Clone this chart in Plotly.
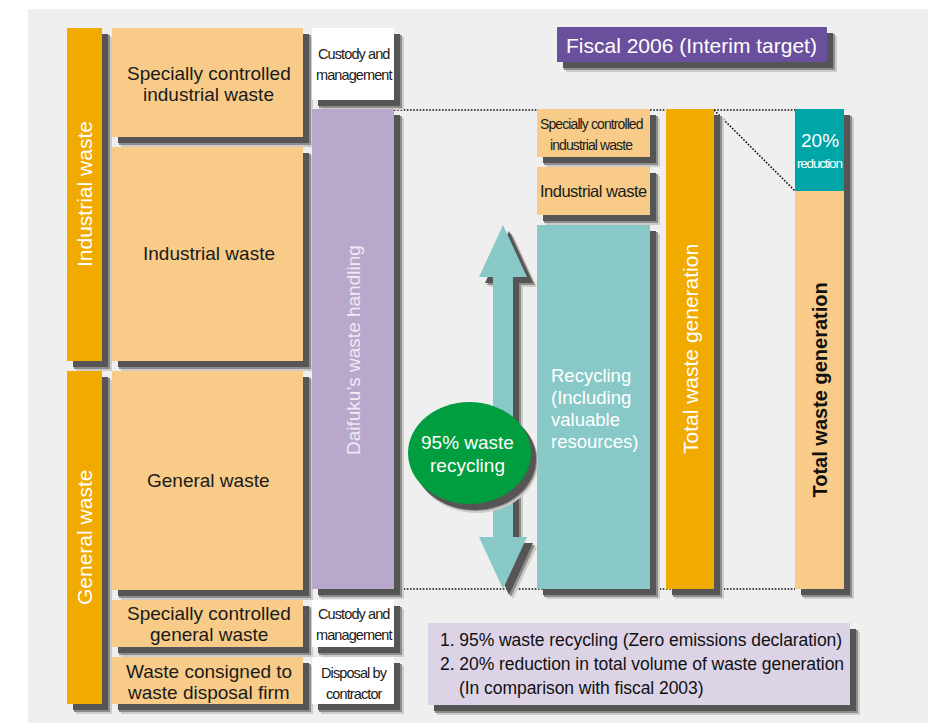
import plotly.graph_objects as go

# ---- text content (diagram "data") ----
category_labels = ["Industrial waste", "General waste"]
source_labels = [
    ["Specially controlled", "industrial waste"],
    ["Industrial waste"],
    ["General waste"],
    ["Specially controlled", "general waste"],
    ["Waste consigned to", "waste disposal firm"],
]
handling_labels = [["Custody and", "management"], ["Custody and", "management"], ["Disposal by", "contractor"]]
handling_main_label = "Daifuku\u2019s waste handling"
target_title = "Fiscal 2006 (Interim target)"
outcome_labels = [["Specially controlled", "industrial waste"], ["Industrial waste"]]
recycling_label = ["Recycling", "(Including", "valuable", "resources)"]
recycling_rate_label = ["95% waste", "recycling"]
total_label = "Total waste generation"
reduction_pct = "20%"
reduction_label = "reduction"
goal_lines = [
    "1. 95% waste recycling (Zero emissions declaration)",
    "2. 20% reduction in total volume of waste generation",
    "(In comparison with fiscal 2003)",
]

# ---- geometry (pixel layout of the diagram) ----
category_boxes = [(67, 28, 102, 361), (67, 371, 102, 704)]
source_boxes = [(112, 28, 303, 137), (112, 147, 303, 361), (112, 371, 303, 590),
                (112, 600, 303, 647), (112, 657, 303, 704)]
handling_boxes = [(312, 28, 394, 100), (312, 600, 394, 647), (312, 657, 394, 704)]
handling_main_box = (312, 109, 394, 589)
outcome_boxes = [(537, 109, 650, 157), (537, 167, 650, 215)]
recycling_box = (537, 225, 650, 589)
total_box = (666, 109, 714, 589)
reduced_top_box = (795, 109, 844, 191)
reduced_box = (795, 191, 844, 589)
title_box = (557, 27, 827, 62)
goal_box = (428, 623, 850, 705)
ellipse_box = (408, 402, 531, 504)

# colours
PANEL = "#EFEFEF"
ORANGE = "#F0AA00"
LIGHT_ORANGE = "#F8CC88"
LAVENDER = "#B7A8CC"
TEAL_LIGHT = "#88C9C7"
TEAL_DARK = "#00A5A7"
TITLE_PURPLE = "#6A4F9C"
GREEN = "#009E3E"
NOTE = "#DCD3E6"
SHADOW = "#555555"
MID = "#8E8C8A"
FRINGE = "#CFCBC8"

SANS = "Liberation Sans, Arial, sans-serif"

shapes = []


def rect(b, color):
    shapes.append(dict(type="rect", xref="x", yref="y", x0=b[0], y0=b[1], x1=b[2], y1=b[3],
                       fillcolor=color, line=dict(width=0)))


def shadowed(b, color, off=6):
    rect((b[0] + off + 3, b[1] + off + 3, b[2] + off + 4, b[3] + off + 4), FRINGE)
    rect((b[0] + off + 1, b[1] + off + 1, b[2] + off + 2, b[3] + off + 2), MID)
    rect((b[0] + off, b[1] + off, b[2] + off, b[3] + off), SHADOW)
    rect(b, color)


def dotted(x0, y0, x1, y1):
    shapes.append(dict(type="line", xref="x", yref="y", x0=x0, y0=y0, x1=x1, y1=y1,
                       line=dict(color="#111111", width=1.6, dash="1.6px,1.6px")))


# panel
rect((28, 9, 928, 723), PANEL)

# dotted guide lines
top_y = handling_main_box[1] + 1
bot_y = handling_main_box[3]
dotted(handling_main_box[2], top_y, reduced_top_box[0], top_y)
dotted(total_box[2], top_y, reduced_top_box[0], reduced_top_box[3])
dotted(handling_main_box[2], bot_y, reduced_box[0], bot_y)

for b in category_boxes:
    shadowed(b, ORANGE)
for b in source_boxes:
    shadowed(b, LIGHT_ORANGE)
for b in handling_boxes:
    shadowed(b, "#FFFFFF")
shadowed(handling_main_box, LAVENDER)
for b in outcome_boxes:
    shadowed(b, LIGHT_ORANGE)
shadowed(recycling_box, TEAL_LIGHT)
shadowed(total_box, ORANGE)
shadowed((reduced_top_box[0], reduced_top_box[1], reduced_box[2], reduced_box[3]), LIGHT_ORANGE)
rect(reduced_top_box, TEAL_DARK)
shadowed(title_box, TITLE_PURPLE)
shadowed(goal_box, NOTE)

# double-headed arrow
ax, tip_top, tip_bot = 503, 225, 589
head_w, shaft_w, head_h = 24, 10, 52


def arrow_path(dx=0, dy=0):
    pts = [(ax, tip_top), (ax + head_w, tip_top + head_h), (ax + shaft_w, tip_top + head_h),
           (ax + shaft_w, tip_bot - head_h), (ax + head_w, tip_bot - head_h), (ax, tip_bot),
           (ax - head_w, tip_bot - head_h), (ax - shaft_w, tip_bot - head_h),
           (ax - shaft_w, tip_top + head_h), (ax - head_w, tip_top + head_h)]
    return "M " + " L ".join(f"{x + dx},{y + dy}" for x, y in pts) + " Z"


for d, c in ((10, FRINGE), (8, MID), (6, SHADOW)):
    shapes.append(dict(type="path", path=arrow_path(d, d), fillcolor=c, line=dict(width=0)))
shapes.append(dict(type="path", path=arrow_path(), fillcolor=TEAL_LIGHT, line=dict(width=0)))

# green ellipse
e = ellipse_box
for (dx, dy), c in (((7, 9), FRINGE), ((6, 7), MID), ((5, 6), SHADOW)):
    shapes.append(dict(type="circle", x0=e[0] + dx, y0=e[1] + dy, x1=e[2] + dx, y1=e[3] + dy,
                       fillcolor=c, line=dict(width=0)))
shapes.append(dict(type="circle", x0=e[0], y0=e[1], x1=e[2], y1=e[3],
                   fillcolor=GREEN, line=dict(width=0)))

annotations = []


def label(x, y, text, size, color="#1A1A1A", angle=0, xanchor="center", spacing=None):
    if spacing is not None:
        text = f'<span style="letter-spacing:{spacing}px">{text}</span>'
    annotations.append(dict(x=x, y=y, xref="x", yref="y", text=text, showarrow=False,
                            font=dict(size=size, color=color, family=SANS), textangle=angle,
                            xanchor=xanchor, yanchor="middle"))


def lines(x, yc, texts, size, gap, color="#1A1A1A", xanchor="center", spacing=None):
    n = len(texts)
    for i, t in enumerate(texts):
        label(x, yc + (i - (n - 1) / 2) * gap, t, size, color, xanchor=xanchor, spacing=spacing)


def cx(b):
    return (b[0] + b[2]) / 2


def cy(b):
    return (b[1] + b[3]) / 2


for b, t in zip(category_boxes, category_labels):
    label(cx(b), cy(b), t, 21, "#FFFFFF", angle=-90)
src_centers = [84, 253, 480, 624, 682]
for b, t, yc in zip(source_boxes, source_labels, src_centers):
    lines(cx(b) + 1, yc, t, 19, 21)
hand_centers = [64, 624, 683]
hand_sizes = [14.5, 14.5, 14.5]
for b, t, yc, s in zip(handling_boxes, handling_labels, hand_centers, hand_sizes):
    lines(cx(b) + 1, yc, t, s, 21, spacing=-0.9)
label(cx(handling_main_box), 350, handling_main_label, 19, "#EFEAF5", angle=-90)
label(cx(title_box) - 1, cy(title_box) + 1, target_title, 21, "#FFFFFF")
lines(cx(outcome_boxes[0]) - 2, 134, outcome_labels[0], 14, 21, spacing=-0.9)
lines(cx(outcome_boxes[1]), 191, outcome_labels[1], 16.5, 21, spacing=-0.5)
lines(549, 408, recycling_label, 18.5, 22, "#FFFFFF", xanchor="left")
lines(cx(ellipse_box) - 2, 454, recycling_rate_label, 19, 23, "#FFFFFF")
label(cx(total_box), 349, total_label, 21, "#FFFFFF", angle=-90)
label(cx(reduced_box), 390, "<b>" + total_label + "</b>", 20, "#111111", angle=-90)
label(cx(reduced_top_box), 140, reduction_pct, 19, "#FFFFFF")
label(cx(reduced_top_box), 163, reduction_label, 13.5, "#FFFFFF", spacing=-1.2)
goal_x = [438, 438, 457]
goal_y = [640, 664, 688]
for x, y, t in zip(goal_x, goal_y, goal_lines):
    label(x, y, t, 17.5, "#111111", xanchor="left", spacing=-0.05)

# page body has an 8px margin: shift the axes so diagram pixels land on page pixels
PAGE_MARGIN = 8
fig = go.Figure()
fig.update_layout(
    width=938 - PAGE_MARGIN, height=723 - PAGE_MARGIN,
    margin=dict(l=0, r=0, t=0, b=0),
    paper_bgcolor="#FFFFFF", plot_bgcolor="#FFFFFF",
    xaxis=dict(range=[PAGE_MARGIN, 938], visible=False, fixedrange=True),
    yaxis=dict(range=[723, PAGE_MARGIN], visible=False, fixedrange=True),
    showlegend=False,
    shapes=shapes,
    annotations=annotations,
)
fig.write_html("out.html")
